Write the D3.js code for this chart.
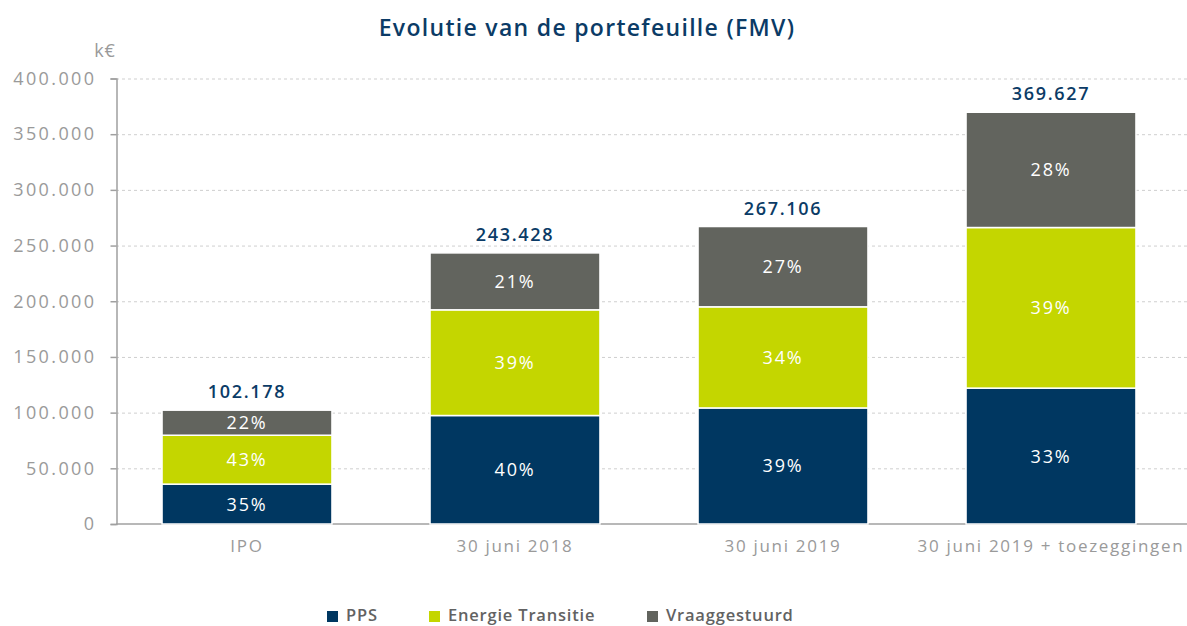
<!DOCTYPE html>
<head>
    <meta charset="utf-8">
    <script src="https://d3js.org/d3.v7.min.js"></script>
    <style>
        body { margin: 0; background: #fff; }
        text { font-family: "Open Sans", sans-serif; }
    </style>
</head>
<body>
<svg id="chart" width="1187" height="626"></svg>
<script>
    // data in k€
    const categories = ["IPO", "30 juni 2018", "30 juni 2019", "30 juni 2019 + toezeggingen"];
    const series = ["PPS", "Energie Transitie", "Vraaggestuurd"];
    const pps = [35.8, 97.4, 104.2, 122.0];
    const energie = [43.9, 94.9, 90.8, 144.2];
    const vraag = [22.5, 51.1, 72.1, 103.5];
    const ppsPct = ["35%", "40%", "39%", "33%"];
    const energiePct = ["43%", "39%", "34%", "39%"];
    const vraagPct = ["22%", "21%", "27%", "28%"];
    const totals = ["102.178", "243.428", "267.106", "369.627"];
    const yTicks = [0, 50, 100, 150, 200, 250, 300, 350, 400];
    const yTickLabels = ["0", "50.000", "100.000", "150.000", "200.000", "250.000", "300.000", "350.000", "400.000"];

    const colors = ["#003761", "#c4d600", "#62645e"];
    const svg = d3.select("#chart");

    const x = d3.scaleBand()
        .domain(categories)
        .range([113, 1185])
        .paddingInner(0.366)
        .paddingOuter(0.183);

    const y = d3.scaleLinear()
        .domain([0, 400])
        .range([524, 78.5]);

    const rows = categories.map(function (c, i) {
        return {cat: c, PPS: pps[i], "Energie Transitie": energie[i], Vraaggestuurd: vraag[i]};
    });
    const pcts = [ppsPct, energiePct, vraagPct];
    const stacked = d3.stack().keys(series)(rows);

    // title
    svg.append("text")
        .attr("x", 587)
        .attr("y", 36)
        .attr("text-anchor", "middle")
        .style("font-size", "23px")
        .style("font-weight", 600)
        .style("letter-spacing", "1.3px")
        .style("fill", "#0b3b66")
        .text("Evolutie van de portefeuille (FMV)");

    svg.append("text")
        .attr("x", 105)
        .attr("y", 57)
        .attr("text-anchor", "middle")
        .style("font-size", "18px")
        .style("letter-spacing", "1px")
        .style("fill", "#9a9a9a")
        .text("k€");

    // gridlines
    svg.selectAll(".grid")
        .data(yTicks.filter(function (d) { return d > 0; }))
        .enter()
        .append("line")
        .attr("x1", 116)
        .attr("x2", 1187)
        .attr("y1", function (d) { return y(d) + 0.5; })
        .attr("y2", function (d) { return y(d) + 0.5; })
        .style("stroke", "#cfcfcf")
        .style("stroke-dasharray", "3,3");

    let yAxis = d3.axisLeft(y)
        .tickValues(yTicks)
        .tickFormat(function (d, i) { return yTickLabels[i]; })
        .tickSize(6)
        .tickPadding(14);

    const gy = svg.append("g")
        .attr("transform", "translate(116.5,0)")
        .call(yAxis);
    gy.select(".domain").style("stroke", "#a0a0a0").style("stroke-width", 1.5);
    gy.selectAll(".tick line").style("stroke", "#a0a0a0").style("stroke-width", 1.5);
    gy.selectAll(".tick text")
        .style("font-size", "18px")
        .style("letter-spacing", "2.4px")
        .style("fill", "#9a9a9a")
        .style("font-family", "'Open Sans', sans-serif");

    let xAxis = d3.axisBottom(x).tickSize(0).tickPadding(16);
    const gx = svg.append("g")
        .attr("transform", "translate(0," + y(0) + ")")
        .call(xAxis);
    gx.select(".domain").attr("d", "M116,0H1187").style("stroke", "#a0a0a0").style("stroke-width", 1.5);
    gx.selectAll(".tick text")
        .style("font-size", "17px")
        .style("letter-spacing", "1.7px")
        .style("fill", "#9a9a9a")
        .style("font-family", "'Open Sans', sans-serif");

    // bars
    const layers = svg.selectAll(".layer")
        .data(stacked)
        .enter()
        .append("g")
        .attr("class", "layer")
        .style("fill", function (d, i) { return colors[i]; });

    layers.selectAll("rect")
        .data(function (d) { return d; })
        .enter()
        .append("rect")
        .attr("x", function (d) { return x(d.data.cat); })
        .attr("width", x.bandwidth())
        .attr("y", function (d) { return y(d[1]); })
        .attr("height", function (d) { return y(d[0]) - y(d[1]); })
        .style("stroke", "#fff")
        .style("stroke-width", 1.5);

    layers.each(function (layer, li) {
        d3.select(this).selectAll(".pct")
            .data(layer)
            .enter()
            .append("text")
            .attr("x", function (d) { return x(d.data.cat) + x.bandwidth() / 2; })
            .attr("y", function (d) { return (y(d[0]) + y(d[1])) / 2; })
            .attr("dy", "0.36em")
            .attr("text-anchor", "middle")
            .style("fill", "#fff")
            .style("font-size", "18px")
            .style("font-weight", 500)
            .style("letter-spacing", "1.8px")
            .text(function (d, i) { return pcts[li][i]; });
    });

    // totals
    svg.selectAll(".total")
        .data(rows)
        .enter()
        .append("text")
        .attr("x", function (d) { return x(d.cat) + x.bandwidth() / 2; })
        .attr("y", function (d) { return y(d.PPS + d["Energie Transitie"] + d.Vraaggestuurd) - 12; })
        .attr("text-anchor", "middle")
        .style("fill", "#0b3b66")
        .style("font-size", "18px")
        .style("font-weight", 600)
        .style("letter-spacing", "1.7px")
        .text(function (d, i) { return totals[i]; });

    // legend
    const legendX = [327, 429, 647];
    const lg = svg.selectAll(".legend")
        .data(series)
        .enter()
        .append("g")
        .attr("transform", function (d, i) { return "translate(" + legendX[i] + ",611)"; });
    lg.append("rect")
        .attr("width", 11)
        .attr("height", 11)
        .style("fill", function (d, i) { return colors[i]; });
    lg.append("text")
        .attr("x", 19)
        .attr("y", 10)
        .style("fill", "#626262")
        .style("font-size", "16.5px")
        .style("font-weight", 600)
        .style("letter-spacing", "0.8px")
        .text(function (d) { return d; });
</script>
</body>
